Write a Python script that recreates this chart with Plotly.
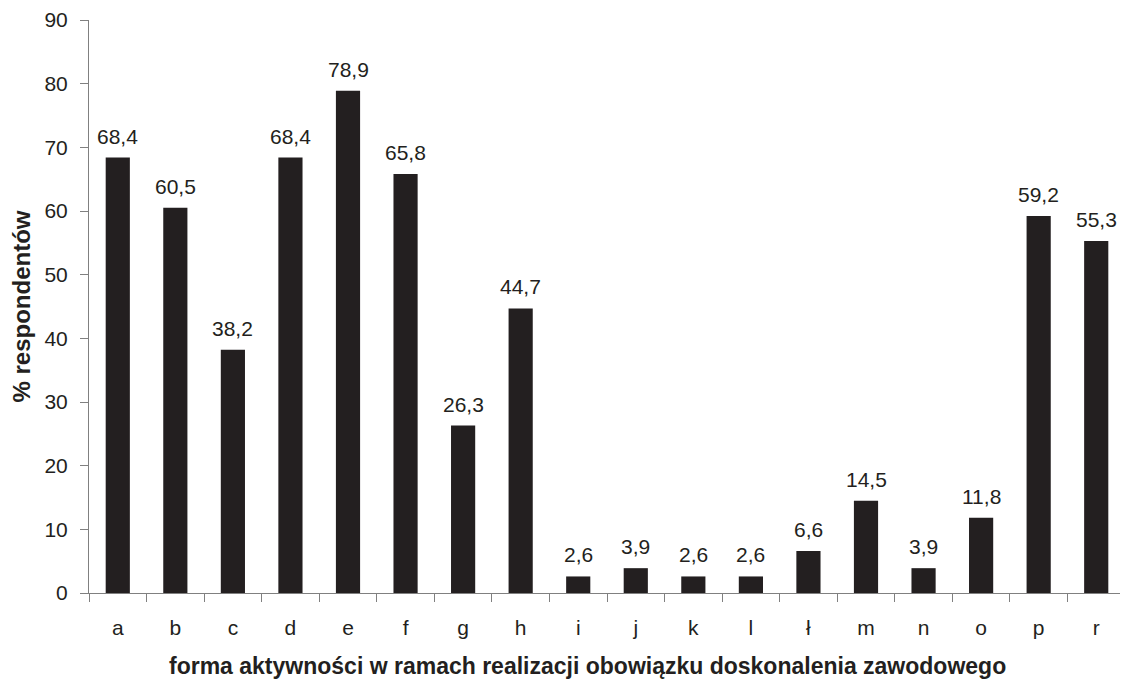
import plotly.graph_objects as go

categories = ["a", "b", "c", "d", "e", "f", "g", "h", "i", "j", "k", "l", "ł", "m", "n", "o", "p", "r"]
values = [68.4, 60.5, 38.2, 68.4, 78.9, 65.8, 26.3, 44.7, 2.6, 3.9, 2.6, 2.6, 6.6, 14.5, 3.9, 11.8, 59.2, 55.3]
labels = [f"{v:.1f}".replace(".", ",") for v in values]
y_ticks = [0, 10, 20, 30, 40, 50, 60, 70, 80, 90]
x_title = "forma aktywności w ramach realizacji obowiązku doskonalenia zawodowego"
y_title = "% respondentów"

font = "Liberation Sans, Arial, sans-serif"
ink = "#231f20"
axis_col = "#808080"

fig = go.Figure(go.Bar(
    x=categories, y=values,
    marker=dict(color=ink, line=dict(width=0)),
    width=0.42, hoverinfo="x+y",
))

for c, v, t in zip(categories, values, labels):
    fig.add_annotation(x=c, y=v, text=t, showarrow=False, yanchor="bottom", yshift=8,
                       font=dict(family=font, size=21, color=ink))

# x-axis title, placed slightly left of the plot centre as in the reference
fig.add_annotation(text=f"<b>{x_title}</b>", xref="paper", yref="paper", x=0.481, y=-0.128,
                   xanchor="center", yanchor="middle", showarrow=False,
                   font=dict(family=font, size=23, color=ink))

# the page body adds an 8px margin, so the figure is 8px smaller than the window
fig.update_layout(
    width=1120, height=671,
    paper_bgcolor="white", plot_bgcolor="white",
    margin=dict(l=81, r=3, t=12, b=86),
    showlegend=False,
    font=dict(family=font, color=ink, size=21),
)
fig.update_xaxes(
    type="category", showgrid=False, showline=True, linecolor=axis_col, linewidth=1,
    ticks="outside", tickson="boundaries", ticklen=8, tickcolor=axis_col,
    tickfont=dict(size=21, family=font, color=ink), ticklabelstandoff=16,
    automargin=False,
)
fig.update_yaxes(
    range=[0, 90], tickvals=y_ticks, showgrid=False, showline=True, linecolor=axis_col, linewidth=1,
    ticks="outside", ticklen=8, tickcolor=axis_col, zeroline=False,
    tickfont=dict(size=21, family=font, color=ink), ticklabelstandoff=8,
    automargin=False,
    title=dict(text=f"<b>{y_title}</b>", font=dict(size=24, family=font, color=ink), standoff=12),
)

fig.write_html("out.html")
